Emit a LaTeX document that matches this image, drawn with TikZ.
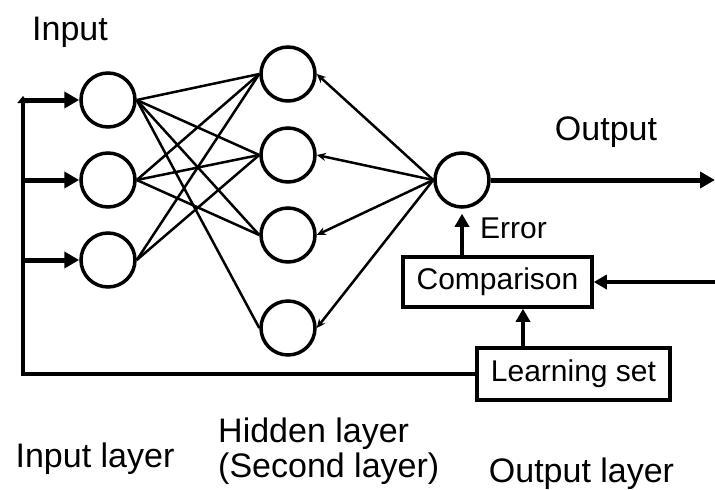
\documentclass[tikz,border=0pt]{standalone}
\usepackage{fontspec}
\setmainfont{Liberation Sans}
\usetikzlibrary{arrows.meta,calc}
\begin{document}
\begin{tikzpicture}[x=1pt,y=-1pt,
  neuron/.style={circle,draw,line width=3.5pt,minimum size=54pt,inner sep=0pt},
  box/.style={draw,line width=3.5pt,inner sep=0pt,font=\fontsize{30}{36}\selectfont},
  lbl/.style={inner sep=0pt,font=\fontsize{34}{35}\selectfont},
  smalllbl/.style={inner sep=0pt,font=\fontsize{30}{36}\selectfont},
  link/.style={line width=2.5pt},
  back/.style={line width=2.5pt,-{Stealth[length=9pt,width=8pt]}},
  bigarrow/.style={line width=5pt,-{Triangle[length=15pt,width=16pt]}},
  medarrow/.style={line width=3.5pt,-{Triangle[length=13pt,width=14pt]}},
  feedback/.style={line width=4pt,line join=miter,-{Triangle[length=7pt,width=11pt]}}
]
\useasboundingbox (0,0) rectangle (715,490);
% nodes
\node[lbl,anchor=base] (tin) at (70,40) {Input};
\node[neuron] (i1) at (108,100) {};
\node[neuron] (i2) at (108,180) {};
\node[neuron] (i3) at (108,260) {};
\node[neuron] (h1) at (288,74) {};
\node[neuron] (h2) at (288,155) {};
\node[neuron] (h3) at (288,235) {};
\node[neuron] (h4) at (288,328) {};
\node[neuron] (o) at (462,180) {};
\node[lbl,anchor=base] (tout) at (606,140) {Output};
\node[box,minimum width=189pt,minimum height=50pt] (cmp) at (497.5,282) {Comparison};
\node[box,minimum width=193pt,minimum height=52pt] (ls) at (573.5,374) {Learning set};
\node[smalllbl,anchor=base west] (err) at (480,238) {Error};
\node[lbl,anchor=base] (lin) at (95,467) {Input layer};
\node[lbl,anchor=base west,align=left] (lhid) at (218,477) {Hidden layer\\(Second layer)};
\node[lbl,anchor=base] (lout) at (581.5,482) {Output layer};
% helper coordinates
\coordinate (oe) at (715,180);
\coordinate (ce) at (715,282);
\coordinate (fb) at (23,374);
\coordinate (fx) at (23,0);
\coordinate (lx) at (523,0);
% connections
\foreach \a/\b in {i1/h1,i1/h2,i1/h3,i1/h4,i2/h1,i2/h2,i2/h3,i3/h1,i3/h2}
  \draw[link] (\a.east) -- (\b.west);
\foreach \b in {h1,h2,h3,h4}
  \draw[back] (o.west) -- (\b.east);
\draw[bigarrow] (o.east) -- (oe);
\draw[medarrow] (cmp.north -| o) -- ([yshift=-5pt]o.south);
\draw[medarrow] (ce) -- (cmp.east);
\draw[medarrow] (ls.north -| lx) -- (cmp.south -| lx);
\draw[feedback] (ls.west) -- (fb) -- ([yshift=4pt]i1.west -| fx);
\foreach \n in {i1,i2,i3}
  \draw[bigarrow] (\n.west -| fx) -- (\n.west);
\end{tikzpicture}
\end{document}
